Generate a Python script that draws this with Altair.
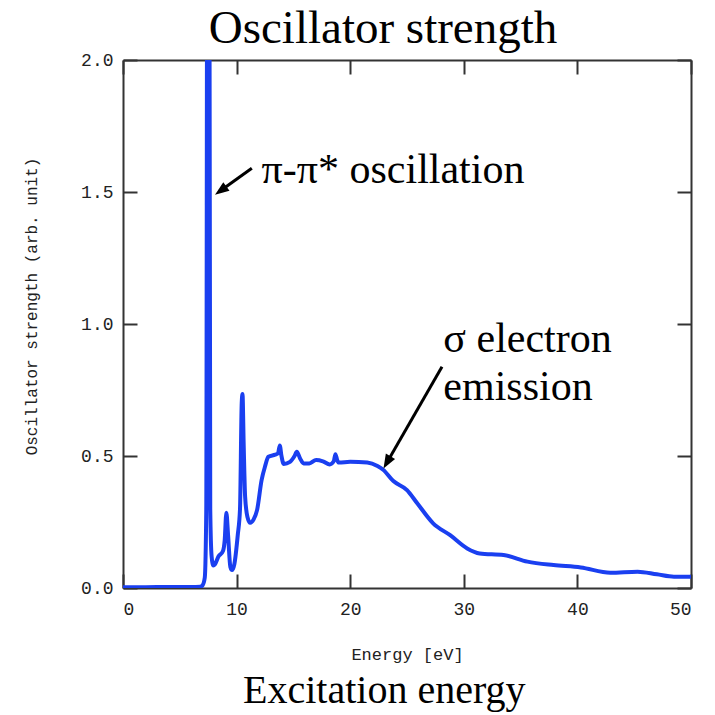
import math
import altair as alt
import pandas as pd

# Oscillator strength spectrum (energy in eV, strength in arb. unit)
energy = [0, 2, 4, 6, 6.8, 7.0, 7.2, 7.33, 7.42, 7.6, 7.68, 7.8, 7.95, 8.1, 8.4, 8.8,
          8.95, 9.1, 9.25, 9.45, 9.6, 9.8, 10.1, 10.3, 10.45, 10.52, 10.62, 10.75,
          10.95, 11.2, 11.5, 11.8, 12.2, 12.5, 12.8, 13.4, 13.65, 13.8, 13.95, 14.15,
          14.7, 15.1, 15.3, 15.6, 15.9, 16.4, 17.0, 17.6, 18.2, 18.55, 18.7, 18.85,
          19.0, 20.0, 21.5, 22.4, 22.9, 23.8, 25.0, 25.9, 27.3, 28.8, 30.3, 31.4,
          33.5, 35.6, 37.9, 40.3, 42.9, 45.3, 47.0, 48.5, 50.0]
strength = [0.003, 0.003, 0.004, 0.004, 0.005, 0.01, 0.04, 0.3, 2.6, 2.6, 0.3, 0.12,
            0.085, 0.09, 0.119, 0.14, 0.18, 0.285, 0.2, 0.08, 0.068, 0.09, 0.2, 0.3,
            0.7, 0.735, 0.55, 0.346, 0.27, 0.247, 0.26, 0.295, 0.409, 0.46, 0.497,
            0.505, 0.51, 0.54, 0.5, 0.47, 0.478, 0.5, 0.516, 0.49, 0.472, 0.472,
            0.485, 0.48, 0.468, 0.48, 0.507, 0.485, 0.475, 0.478, 0.475, 0.462,
            0.448, 0.405, 0.371, 0.321, 0.245, 0.2, 0.15, 0.131, 0.125, 0.1, 0.087,
            0.078, 0.058, 0.062, 0.052, 0.043, 0.043]

x_ticks = [0, 10, 20, 30, 40, 50]
y_ticks = [0.0, 0.5, 1.0, 1.5, 2.0]

# Annotation arrows: tail and tip in data coordinates
arrow_tail_x = [11.34, 28.08]
arrow_tail_y = [1.59, 0.838]
arrow_tip_x = [8.1, 22.93]
arrow_tip_y = [1.49, 0.453]

# Annotation labels placed in data coordinates
label_text = ["π-π* oscillation", "σ electron", "emission"]
label_x = [12.2, 28.2, 28.2]
label_y = [1.534, 0.895, 0.712]

W, H = 568, 528
X_DOM, Y_DOM = [0, 50], [0, 2]
px_x = W / (X_DOM[1] - X_DOM[0])
px_y = H / (Y_DOM[1] - Y_DOM[0])
HEAD = 14  # arrowhead length in px

rows = []
for tx, ty, hx, hy in zip(arrow_tail_x, arrow_tail_y, arrow_tip_x, arrow_tip_y):
    dx = (hx - tx) * px_x
    dy = -(hy - ty) * px_y
    n = math.hypot(dx, dy)
    ang = math.degrees(math.atan2(dx, -dy)) % 360
    # shaft stops inside the arrowhead
    ex = hx - (dx / n) * (HEAD * 0.6) / px_x
    ey = hy + (dy / n) * (HEAD * 0.6) / px_y
    rows.append(dict(x=tx, y=ty, x2=ex, y2=ey, hx=hx, hy=hy, ang=ang))
arrows = pd.DataFrame(rows)

curve = pd.DataFrame({"energy": energy, "strength": strength})
labels = pd.DataFrame({"t": label_text, "x": label_x, "y": label_y})

AX = dict(tickColor="#333", domainColor="#333", domainWidth=2, tickWidth=2,
          tickSize=14, grid=False, labelFont="Liberation Mono", labelFontSize=18,
          labelColor="#222", titleFont="Liberation Mono", titleFontWeight="normal",
          titleColor="#222")

xs = alt.Scale(domain=X_DOM, nice=False)
ys = alt.Scale(domain=Y_DOM, nice=False)

# Curve with labelled bottom / left axes
line = alt.Chart(curve).mark_line(color="#1a3ff0", strokeWidth=4, clip=True,
                                  interpolate="monotone").encode(
    x=alt.X("energy:Q", scale=xs, axis=alt.Axis(
        orient="bottom", values=x_ticks, ticks=False, labelPadding=12,
        title="Energy [eV]", titleFontSize=17, titleY=66, titleBaseline="middle",
        **AX)),
    y=alt.Y("strength:Q", scale=ys, axis=alt.Axis(
        orient="left", values=y_ticks, format=".1f", ticks=False, labelPadding=10,
        title="Oscillator strength (arb. unit)", titleFontSize=16, titleX=-92,
        titleY=246, titleAngle=270, titleAlign="center", titleBaseline="middle",
        **AX)),
)

# Arrow shafts; their axes carry the inward ticks on the bottom and left edges
shafts = alt.Chart(arrows).mark_rule(color="black", strokeWidth=3).encode(
    x=alt.X("x:Q", scale=xs, axis=alt.Axis(
        orient="top", offset=-H, values=x_ticks, labels=False, domain=False,
        title=None, **AX)),
    y=alt.Y("y:Q", scale=ys, axis=alt.Axis(
        orient="right", offset=-W, values=y_ticks, labels=False, domain=False,
        title=None, **AX)),
    x2="x2:Q", y2="y2:Q",
)

# Arrowheads; their axes draw the top / right frame with inward ticks
heads = alt.Chart(arrows).mark_point(
    shape="M0,0L-0.38,1L0.38,1Z", filled=True, color="black", opacity=1,
    size=(2 * HEAD) ** 2).encode(
    x=alt.X("hx:Q", scale=xs, axis=alt.Axis(
        orient="bottom", offset=-H, values=x_ticks, labels=False, title=None, **AX)),
    y=alt.Y("hy:Q", scale=ys, axis=alt.Axis(
        orient="left", offset=-W, values=y_ticks, labels=False, title=None, **AX)),
    angle=alt.Angle("ang:Q", scale=None),
)

notes = alt.Chart(labels).mark_text(
    font="Liberation Serif", fontSize=42, align="left", baseline="alphabetic",
    color="black").encode(
    x=alt.X("x:Q", scale=xs, axis=None),
    y=alt.Y("y:Q", scale=ys, axis=None),
    text="t:N",
)

title = alt.Chart(pd.DataFrame({"t": ["Oscillator strength"]})).mark_text(
    font="Liberation Serif", fontSize=47, align="center", baseline="alphabetic",
    color="black").encode(x=alt.value(260), y=alt.value(-17), text="t:N")

bottom = alt.Chart(pd.DataFrame({"t": ["Excitation energy"]})).mark_text(
    font="Liberation Serif", fontSize=40, align="left", baseline="alphabetic",
    color="black").encode(x=alt.value(120), y=alt.value(643), text="t:N")

chart = alt.layer(line, shafts, heads, notes, title, bottom).resolve_axis(
    x="independent", y="independent"
).properties(
    width=W, height=H,
    autosize=alt.AutoSizeParams(type="none"),
    padding={"left": 123, "top": 60, "right": 24, "bottom": 127},
    background="white",
).configure_view(stroke=None)

chart.save("out.html", embed_options={"renderer": "svg", "actions": False})
